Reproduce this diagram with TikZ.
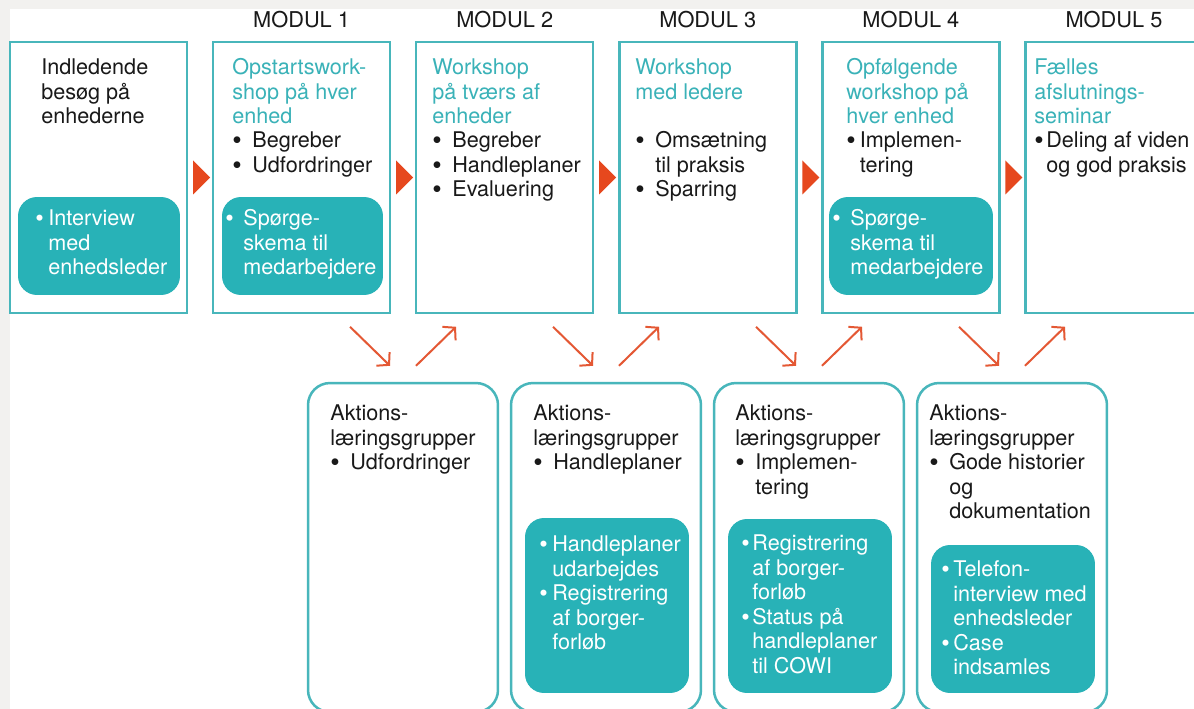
\documentclass[tikz,border=0pt]{standalone}
\usepackage{fontspec}
\setmainfont{TeX Gyre Heros}
\usepackage{xcolor}
\usepackage{tikz}
\usetikzlibrary{shapes.geometric}
\usetikzlibrary{arrows.meta}
\usetikzlibrary{calc}

\definecolor{tealline}{RGB}{72,182,187}
\definecolor{tealfill}{RGB}{40,178,183}
\definecolor{tealtext}{RGB}{58,178,184}
\definecolor{markred}{RGB}{230,72,30}
\definecolor{flowred}{RGB}{228,88,52}
\definecolor{framegray}{RGB}{242,241,239}
\definecolor{inktext}{RGB}{25,25,25}

\newcommand{\bul}[1][0.4cm]{\makebox[#1][l]{\smash{\raisebox{-0.08em}{\scalebox{1.25}{\textbullet}}}}}
\newcommand{\wbul}[1][0.26cm]{\makebox[#1][l]{\smash{\raisebox{-0.04em}{\scalebox{1.12}{\textbullet}}}}}
\newcommand{\cont}[1][0.4cm]{\hspace*{#1}}

\tikzset{
    modbox/.style={draw=tealline, line width=0.05cm, minimum width=3.54cm,
        minimum height=5.42cm, inner sep=0},
    aktbox/.style={draw=tealline, line width=0.05cm, rounded corners=0.44cm,
        minimum width=3.8cm, minimum height=6.58cm, inner sep=0},
    tealbox/.style={fill=tealfill, rounded corners=0.38cm, inner sep=0},
    % anchored at the baseline of the last line
    txt/.style={anchor=base west, align=left, inner sep=0,
        font=\fontsize{12.3}{13.9}\selectfont, text=inktext},
    head/.style={txt, text=tealtext},
    wtxt/.style={txt, text=white},
    modul/.style={anchor=base, inner sep=0, font=\fontsize{12.4}{14}\selectfont, text=inktext},
    tri/.style={isosceles triangle, isosceles triangle stretches, fill=markred,
        minimum height=0.34cm, minimum width=0.68cm, inner sep=0},
    flow/.style={draw=flowred, line width=0.04cm, -{Straight Barb[length=0.17cm,width=0.38cm]}}
}

\begin{document}
\begin{tikzpicture}[x=0.02cm, y=-0.02cm]
    \useasboundingbox (0,0) rectangle (1194,709);
    \clip (0,0) rectangle (1194,709);
    \fill[framegray] (0,0) rectangle (1194,709);
    \fill[white] (10,9) rectangle (1194,709);

    % modules
    \node[modbox] (m0) at (98.5,177.5) {};
    \node[modbox] (m1) at (301.6,177.5) {};
    \node[modbox] (m2) at (504.7,177.5) {};
    \node[modbox] (m3) at (707.8,177.5) {};
    \node[modbox] (m4) at (910.9,177.5) {};
    \node[modbox] (m5) at (1114,177.5) {};

    \node[modul] (l1) at (301.6,28) {MODUL 1};
    \node[modul] (l2) at (504.7,28) {MODUL 2};
    \node[modul] (l3) at (707.8,28) {MODUL 3};
    \node[modul] (l4) at (910.9,28) {MODUL 4};
    \node[modul] (l5) at (1114,28) {MODUL 5};

    \node[tri] (p1) at ($(m0.east)!.5!(m1.west)$) {};
    \node[tri] (p2) at ($(m1.east)!.5!(m2.west)$) {};
    \node[tri] (p3) at ($(m2.east)!.5!(m3.west)$) {};
    \node[tri] (p4) at ($(m3.east)!.5!(m4.west)$) {};
    \node[tri] (p5) at ($(m4.east)!.5!(m5.west)$) {};

    \node[tealbox, minimum width=3.24cm, minimum height=1.96cm] (t0) at (99,246) {};
    \node[tealbox, minimum width=3.22cm, minimum height=1.96cm] (t1) at (302.5,246) {};
    \node[tealbox, minimum width=3.28cm, minimum height=1.96cm] (t4) at (911,246) {};

    % module texts
    \node[txt] (x0) at (41,123.8) {Indledende\\besøg på\\enhederne};
    \node[wtxt] (y0) at (35,274.8) {\wbul Interview\\\cont[0.26cm]med\\\cont[0.26cm]enhedsleder};

    \node[head] (h1) at (232,123.8) {Opstartswork-\\shop på hver\\enhed};
    \node[txt] (b1) at (232,172.4) {\bul Begreber\\\bul Udfordringer};
    \node[wtxt] (y1) at (225,274.8) {\wbul[0.36cm]Spørge-\\\cont[0.36cm]skema til\\\cont[0.36cm]medarbejdere};

    \node[head] (h2) at (432,123.8) {Workshop\\på tværs af\\enheder};
    \node[txt] (b2) at (432,196.8) {\bul Begreber\\\bul Handleplaner\\\bul Evaluering};

    \node[head] (h3) at (635,99.4) {Workshop\\med ledere};
    \node[txt] (b3) at (635,196.8) {\bul Omsætning\\\cont til praksis\\\bul Sparring};

    \node[head] (h4) at (846,123.8) {Opfølgende\\workshop på\\hver enhed};
    \node[txt] (b4) at (846,172.4) {\bul[0.27cm]Implemen-\\\cont[0.27cm]tering};
    \node[wtxt] (y4) at (832,274.8) {\wbul[0.36cm]Spørge-\\\cont[0.36cm]skema til\\\cont[0.36cm]medarbejdere};

    \node[head] (h5) at (1034,123.8) {Fælles\\afslutnings-\\seminar};
    \node[txt] (b5) at (1034,172.4) {\bul[0.24cm]Deling af viden\\\cont[0.24cm]og god praksis};

    % action learning groups
    \node[aktbox] (a1) at (403,547.5) {};
    \node[aktbox] (a2) at (606,547.5) {};
    \node[aktbox] (a3) at (809,547.5) {};
    \node[aktbox] (a4) at (1012,547.5) {};

    \node[tealbox, minimum width=3.28cm, minimum height=3.5cm] (f2) at (607,605.5) {};
    \node[tealbox, minimum width=3.28cm, minimum height=3.48cm] (f3) at (810,606) {};
    \node[tealbox, minimum width=3.28cm, minimum height=2.96cm] (f4) at (1013,619) {};

    \node[txt] (g1) at (330,469.8) {Aktions-\\læringsgrupper\\\bul Udfordringer};
    \node[txt] (g2) at (533,469.8) {Aktions-\\læringsgrupper\\\bul Handleplaner};
    \node[wtxt] (z2) at (539,649.6) {\wbul Handleplaner\\\cont[0.26cm]udarbejdes\\\wbul Registrering\\\cont[0.26cm]af borger-\\\cont[0.26cm]forløb};
    \node[txt] (g3) at (735,494.2) {Aktions-\\læringsgrupper\\\bul Implemen-\\\cont tering};
    \node[wtxt] (z3) at (741,673) {\wbul[0.22cm]Registrering\\\cont[0.22cm]af borger-\\\cont[0.22cm]forløb\\\wbul[0.22cm]Status på\\\cont[0.22cm]handleplaner\\\cont[0.22cm]til COWI};
    \node[txt] (g4) at (929,518.6) {Aktions-\\læringsgrupper\\\bul Gode historier\\\cont og\\\cont dokumentation};
    \node[wtxt] (z4) at (941,674.6) {\wbul[0.24cm]Telefon-\\\cont[0.24cm]interview med\\\cont[0.24cm]enhedsleder\\\wbul[0.24cm]Case\\\cont[0.24cm]indsamles};

    % arrows
    \draw[flow] ([shift={(-53,-55)}]a1.north) -- ([shift={(-13,-16)}]a1.north);
    \draw[flow] ([shift={(13,-16)}]a1.north) -- ([shift={(53,-55)}]a1.north);
    \draw[flow] ([shift={(-53,-55)}]a2.north) -- ([shift={(-13,-16)}]a2.north);
    \draw[flow] ([shift={(13,-16)}]a2.north) -- ([shift={(53,-55)}]a2.north);
    \draw[flow] ([shift={(-53,-55)}]a3.north) -- ([shift={(-13,-16)}]a3.north);
    \draw[flow] ([shift={(13,-16)}]a3.north) -- ([shift={(53,-55)}]a3.north);
    \draw[flow] ([shift={(-53,-55)}]a4.north) -- ([shift={(-13,-16)}]a4.north);
    \draw[flow] ([shift={(13,-16)}]a4.north) -- ([shift={(53,-55)}]a4.north);
\end{tikzpicture}
\end{document}
